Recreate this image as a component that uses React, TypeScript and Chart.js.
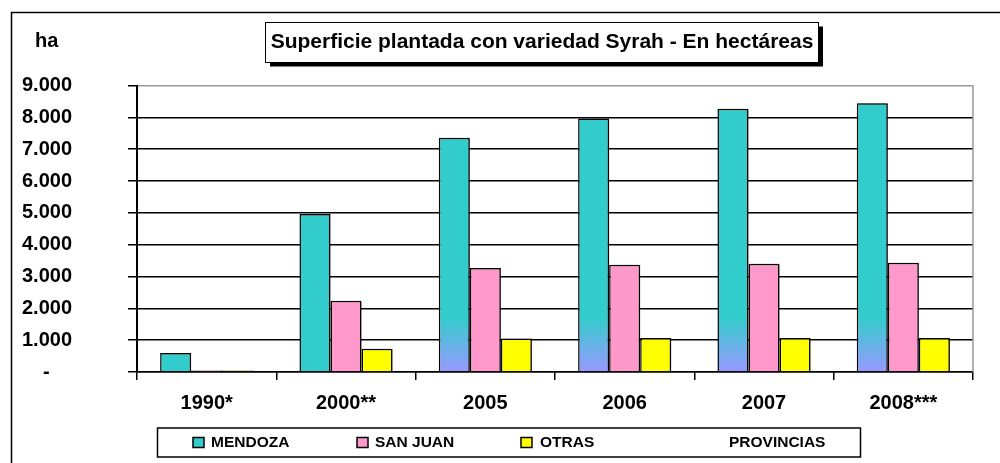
import React, { useEffect, useRef } from 'react';
import { Chart, registerables } from 'chart.js';

Chart.register(...registerables);

const categories = ['1990*', '2000**', '2005', '2006', '2007', '2008***'];
const mendoza = [600, 4960, 7360, 7960, 8270, 8440];
const sanJuan = [50, 2240, 3270, 3370, 3400, 3430];
const otras = [50, 730, 1050, 1070, 1070, 1070];
const seriesNames = ['MENDOZA', 'SAN JUAN', 'OTRAS PROVINCIAS'];
const seriesColors = ['#33CCCC', '#FF99CC', '#FFFF00'];
const titleText = 'Superficie plantada con variedad Syrah - En hectáreas';
const unitLabel = 'ha';
const yMax = 9000;
const yStep = 1000;

const FONT = '"Liberation Sans", Arial, Helvetica, sans-serif';

function fmtTick(v: number): string {
  if (v === 0) return '-    ';
  return String(v).replace(/\B(?=(\d{3})+(?!\d))/g, '.');
}

const decor = {
  id: 'decor',
  beforeDatasetsDraw(chart: any) {
    const c = chart.ctx;
    c.save();
    c.shadowColor = 'rgba(0,0,0,0.35)';
    c.shadowOffsetX = 2;
    c.shadowOffsetY = 0;
    c.shadowBlur = 0;
  },
  afterDatasetsDraw(chart: any) {
    chart.ctx.restore();
  },
  afterDraw(chart: any) {
    const ctx = chart.ctx;
    const { right, top, bottom } = chart.chartArea;
    ctx.save();
    // outer frame
    ctx.strokeStyle = '#000';
    ctx.lineWidth = 1.5;
    ctx.beginPath();
    ctx.moveTo(11.5, chart.height);
    ctx.lineTo(11.5, 12.5);
    ctx.lineTo(chart.width, 12.5);
    ctx.stroke();
    // right plot border
    ctx.strokeStyle = '#999';
    ctx.lineWidth = 1.5;
    ctx.beginPath();
    ctx.moveTo(right, top);
    ctx.lineTo(right, bottom);
    ctx.stroke();
    // title box
    ctx.fillStyle = '#000';
    ctx.fillRect(270, 26.5, 553, 40);
    ctx.fillStyle = '#fff';
    ctx.fillRect(265.5, 22, 553, 40);
    ctx.strokeStyle = '#000';
    ctx.lineWidth = 1;
    ctx.strokeRect(265.5, 22.5, 553, 40);
    ctx.fillStyle = '#000';
    ctx.font = `bold 21px ${FONT}`;
    ctx.textAlign = 'center';
    ctx.textBaseline = 'middle';
    ctx.fillText(titleText, 542, 42);
    // unit label
    ctx.font = `bold 20px ${FONT}`;
    ctx.textAlign = 'left';
    ctx.textBaseline = 'alphabetic';
    ctx.fillText(unitLabel, 35, 46.5);
    // legend
    ctx.fillStyle = '#fff';
    ctx.fillRect(157.5, 428, 703, 29);
    ctx.strokeStyle = '#000';
    ctx.lineWidth = 1.5;
    ctx.strokeRect(157.5, 428, 703, 29);
    ctx.font = `bold 15.5px ${FONT}`;
    ctx.textBaseline = 'middle';
    seriesNames.forEach((name, i) => {
      const sx = 193 + 164 * i;
      ctx.fillStyle = seriesColors[i];
      ctx.fillRect(sx, 437.5, 11, 10);
      ctx.strokeStyle = '#000';
      ctx.lineWidth = 1.5;
      ctx.strokeRect(sx, 437.5, 11, 10);
      ctx.fillStyle = '#000';
      const words = name.split(' ');
      if (i === 2 && words.length > 1) {
        ctx.fillText(words[0], sx + 19, 443);
        ctx.fillText(words.slice(1).join(' '), 729, 443);
      } else {
        ctx.fillText(name, sx + 18, 443);
      }
    });
    ctx.restore();
  },
};

export default function App() {
  const ref = useRef<HTMLCanvasElement | null>(null);
  useEffect(() => {
    if (!ref.current) return;
    const mendozaFill = (c: any) => {
      const chart = c.chart;
      const area = chart.chartArea;
      if (!area || c.dataIndex < 2) return seriesColors[0];
      const g = chart.ctx.createLinearGradient(0, area.bottom, 0, area.bottom - 54);
      g.addColorStop(0, '#9999FF');
      g.addColorStop(1, '#33CCCC');
      return g;
    };
    const chart = new Chart(ref.current, {
      type: 'bar',
      data: {
        labels: categories,
        datasets: [
          { label: seriesNames[0], data: mendoza, backgroundColor: mendozaFill, borderColor: '#000', borderWidth: 1.5 },
          { label: seriesNames[1], data: sanJuan, backgroundColor: seriesColors[1], borderColor: '#000', borderWidth: 1.5 },
          { label: seriesNames[2], data: otras, backgroundColor: seriesColors[2], borderColor: '#000', borderWidth: 1.5 },
        ],
      },
      options: {
        animation: false,
        responsive: false,
        devicePixelRatio: 1,
        layout: { padding: { top: 85.5, right: 27, left: 0, bottom: 0 } },
        datasets: { bar: { categoryPercentage: 0.668, barPercentage: 1 } },
        plugins: {
          legend: { display: false },
          title: { display: false },
          tooltip: { enabled: false },
        },
        scales: {
          x: {
            afterFit: (s: any) => { s.height = 91; },
            grid: { display: true, drawOnChartArea: false, drawTicks: true, tickLength: 8, color: '#000', lineWidth: 1.5 },
            border: { display: true, color: '#000', width: 1.5 },
            ticks: { color: '#000', font: { family: FONT, size: 20, weight: 'bold' }, padding: 11, maxRotation: 0, autoSkip: false },
          },
          y: {
            min: 0,
            max: yMax,
            afterFit: (s: any) => { s.width = 137; },
            grid: {
              color: (c: any) => (c.tick && c.tick.value === yMax ? '#999' : '#000'),
              lineWidth: 1.5,
              tickLength: 9,
              tickColor: '#000',
            },
            border: { display: true, color: '#000', width: 2 },
            ticks: {
              stepSize: yStep,
              color: '#000',
              padding: 56,
              font: { family: FONT, size: 20, weight: 'bold' },
              callback: (v: any) => fmtTick(Number(v)),
            },
          },
        },
      },
      plugins: [decor],
    });
    return () => chart.destroy();
  }, []);
  return (
    <div style={{ position: 'absolute', left: 0, top: 0, width: 1000, height: 463, background: '#fff' }}>
      <canvas ref={ref} width={1000} height={463} style={{ display: 'block' }} />
    </div>
  );
}
